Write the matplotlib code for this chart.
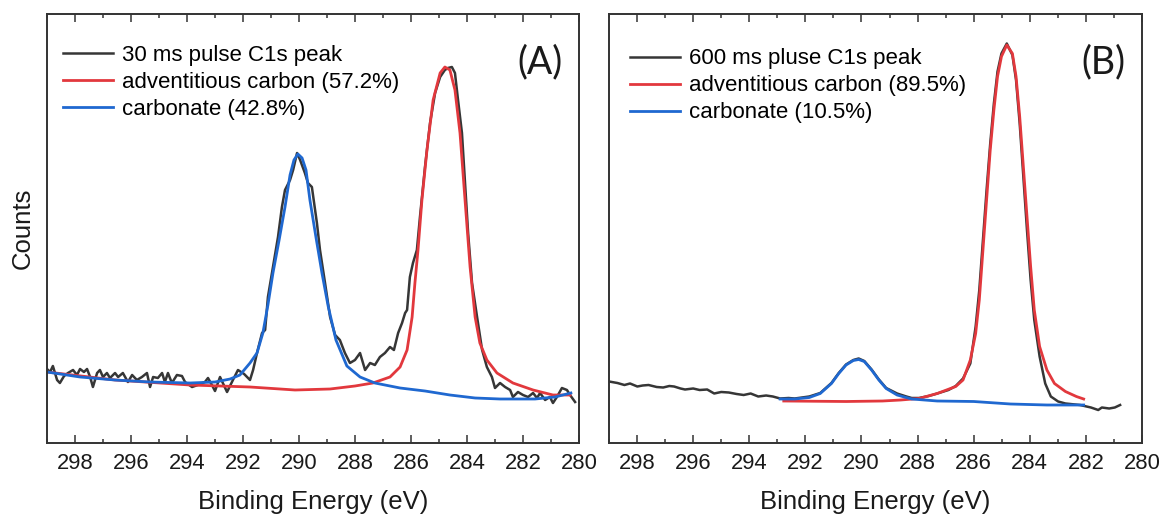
"""Two-panel XPS C1s spectra (30 ms vs 600 ms pulse) with peak fits."""
import matplotlib
matplotlib.use("Agg")
import matplotlib.pyplot as plt
from matplotlib.ticker import MultipleLocator, NullLocator

# ---- panel A: 30 ms pulse ------------------------------------------------
A_RAW_EV = [299.00, 298.89, 298.79, 298.64, 298.54, 298.39, 298.25, 298.07, 297.93, 297.82,
            297.68, 297.57, 297.46, 297.36, 297.21, 297.11, 297.00, 296.86, 296.75, 296.57,
            296.46, 296.29, 296.11, 295.96, 295.79, 295.61, 295.43, 295.32, 295.21, 295.04,
            294.89, 294.79, 294.68, 294.54, 294.36, 294.18, 294.07, 293.82, 293.61, 293.36,
            293.25, 293.11, 293.00, 292.82, 292.57, 292.36, 292.18, 291.96, 291.75, 291.64,
            291.50, 291.32, 291.21, 291.11, 290.93, 290.75, 290.61, 290.50, 290.32, 290.21,
            290.07, 289.96, 289.79, 289.68, 289.54, 289.36, 289.25, 289.07, 288.89, 288.71,
            288.54, 288.36, 288.18, 288.00, 287.82, 287.64, 287.46, 287.29, 287.11, 286.93,
            286.75, 286.61, 286.46, 286.32, 286.21, 286.14, 286.04, 285.93, 285.79, 285.68,
            285.50, 285.32, 285.14, 284.96, 284.79, 284.68, 284.54, 284.43, 284.32, 284.18,
            284.07, 283.96, 283.82, 283.64, 283.46, 283.29, 283.11, 283.00, 282.82, 282.64,
            282.46, 282.36, 282.18, 282.00, 281.82, 281.64, 281.50, 281.39, 281.21, 281.04,
            280.93, 280.79, 280.61, 280.43, 280.32, 280.14]
A_RAW_CTS = [1480, 1420, 1540, 1260, 1200, 1340, 1400, 1460, 1360, 1480,
             1420, 1480, 1320, 1120, 1400, 1460, 1320, 1400, 1300, 1400,
             1320, 1400, 1220, 1360, 1260, 1320, 1400, 1120, 1320, 1300,
             1400, 1220, 1400, 1200, 1360, 1340, 1220, 1120, 1160, 1220,
             1300, 1160, 1040, 1320, 1020, 1260, 1460, 1380, 1260, 1460,
             1800, 2200, 2260, 2920, 3520, 4120, 4720, 5060, 5260, 5460,
             5800, 5660, 5400, 5200, 5120, 4400, 3860, 3200, 2520, 2160,
             2060, 1800, 1600, 1660, 1800, 1460, 1600, 1560, 1720, 1800,
             1920, 1860, 2200, 2400, 2600, 2660, 3320, 3600, 3860, 4520,
             5520, 6400, 7000, 7320, 7460, 7500, 7520, 7400, 6860, 6200,
             5200, 4200, 3200, 2520, 1860, 1520, 1320, 1100, 1200, 1120,
             1060, 920, 1020, 960, 920, 1000, 900, 1000, 860, 920,
             800, 920, 1100, 1060, 960, 820]

A_ADV_EV = [299.00, 296.57, 293.89, 291.75, 290.14, 288.89, 288.00, 287.36, 286.75, 286.39,
            286.14, 285.96, 285.86, 285.75, 285.61, 285.43, 285.21, 284.96, 284.79, 284.61,
            284.43, 284.25, 284.07, 283.89, 283.71, 283.54, 283.29, 282.93, 282.36, 281.64,
            280.93, 280.32]
A_ADV_CTS = [1420, 1260, 1160, 1120, 1060, 1080, 1140, 1200, 1320, 1520,
             1860, 2520, 3200, 3860, 4860, 5860, 6860, 7400, 7520, 7460,
             7060, 6200, 4860, 3520, 2520, 2000, 1660, 1400, 1200, 1060,
             960, 960]

A_CARB_EV = [299.00, 297.82, 296.57, 295.32, 293.89, 293.00, 292.46, 292.11, 291.75, 291.50,
             291.29, 291.11, 290.93, 290.71, 290.50, 290.32, 290.18, 290.04, 289.89, 289.75,
             289.61, 289.39, 289.18, 288.96, 288.68, 288.29, 287.82, 287.29, 286.39, 285.50,
             284.61, 283.71, 282.82, 281.57, 280.86, 280.29]
A_CARB_CTS = [1420, 1320, 1260, 1220, 1200, 1220, 1280, 1360, 1600, 1800,
              2200, 2760, 3400, 4060, 4720, 5360, 5660, 5780, 5700, 5460,
              4860, 4100, 3400, 2740, 2060, 1540, 1320, 1200, 1100, 1040,
              960, 900, 880, 880, 920, 1000]

# ---- panel B: 600 ms pulse -----------------------------------------------
B_RAW_EV = [299.00, 298.70, 298.45, 298.25, 297.99, 297.80, 297.59, 297.30, 297.07, 296.85,
            296.68, 296.45, 296.29, 296.00, 295.77, 295.50, 295.25, 295.00, 294.73, 294.45,
            294.20, 293.95, 293.68, 293.40, 293.16, 292.90, 292.60, 292.38, 291.86, 291.47,
            291.07, 290.81, 290.55, 290.29, 290.10, 289.90, 289.64, 289.38, 289.12, 288.73,
            288.40, 288.21, 287.95, 287.60, 287.30, 286.90, 286.64, 286.38, 286.12, 285.93,
            285.80, 285.67, 285.54, 285.41, 285.28, 285.15, 285.01, 284.82, 284.62, 284.49,
            284.36, 284.23, 284.10, 283.97, 283.84, 283.65, 283.45, 283.25, 282.99, 282.73,
            282.21, 281.82, 281.56, 281.43, 281.17, 280.97, 280.78]
B_RAW_CTS = [1230, 1200, 1160, 1190, 1130, 1150, 1160, 1120, 1110, 1140,
             1130, 1090, 1070, 1090, 1060, 1070, 990, 1020, 1010, 980,
             960, 990, 930, 950, 930, 890, 900, 890, 930, 1000,
             1200, 1400, 1570, 1660, 1690, 1640, 1470, 1270, 1100, 990,
             930, 900, 900, 940, 990, 1060, 1140, 1290, 1590, 2330,
             3060, 4060, 5060, 5990, 6790, 7430, 7790, 7990, 7760, 7260,
             6390, 5330, 4260, 3260, 2460, 1730, 1190, 930, 830, 790,
             760, 710, 660, 710, 690, 710, 760]

B_ADV_EV = [292.77, 290.55, 289.25, 288.60, 287.95, 287.30, 286.64, 286.38, 286.12, 285.93,
            285.80, 285.67, 285.54, 285.41, 285.28, 285.15, 285.01, 284.82, 284.62, 284.49,
            284.36, 284.23, 284.10, 283.97, 283.84, 283.65, 283.39, 283.12, 282.73, 282.34,
            282.08]
B_ADV_CTS = [840, 830, 840, 860, 890, 990, 1130, 1260, 1660, 2190,
             2860, 3860, 4860, 5860, 6660, 7330, 7730, 7960, 7790, 7330,
             6530, 5530, 4530, 3530, 2660, 1930, 1460, 1190, 1030, 930,
             880]

B_CARB_EV = [292.90, 292.38, 291.86, 291.47, 291.07, 290.81, 290.55, 290.29, 290.10, 289.90,
             289.64, 289.38, 289.12, 288.73, 288.21, 287.30, 286.00, 284.69, 283.39, 282.08]
B_CARB_CTS = [880, 880, 910, 990, 1190, 1390, 1560, 1650, 1670, 1630,
              1460, 1260, 1090, 960, 880, 840, 830, 780, 760, 760]

LABELS_A = ["30 ms pulse C1s peak", "adventitious carbon (57.2%)", "carbonate (42.8%)"]
LABELS_B = ["600 ms pluse C1s peak", "adventitious carbon (89.5%)", "carbonate (10.5%)"]

C_RAW, C_ADV, C_CARB = "#363636", "#e2383d", "#1f68d0"
SPINE = "#333333"
FONT = "Liberation Sans"


def style_axes(ax):
    ax.set_xlim(299, 280)
    ax.set_ylim(0, 8580)
    ax.xaxis.set_major_locator(MultipleLocator(2))
    ax.xaxis.set_minor_locator(MultipleLocator(1))
    ax.yaxis.set_major_locator(NullLocator())
    ax.yaxis.set_minor_locator(NullLocator())
    ax.tick_params(axis="x", which="both", direction="in", top=True, bottom=True,
                   color=SPINE, width=1.1)
    ax.tick_params(axis="x", which="major", length=5.8, pad=7, labelsize=15.8,
                   labelcolor="#1a1a1a")
    ax.tick_params(axis="x", which="minor", length=2.9)
    for lab in ax.get_xticklabels():
        lab.set_fontfamily(FONT)
    for sp in ax.spines.values():
        sp.set_color(SPINE)
        sp.set_linewidth(1.4)
    ax.set_xlabel("Binding Energy (eV)", fontsize=18.5, family=FONT, color="#1a1a1a",
                  labelpad=12)


def draw_panel(ax, raw, adv, carb, labels, tag, anchor):
    h1, = ax.plot(*raw, color=C_RAW, lw=1.8, label=labels[0])
    h2, = ax.plot(*adv, color=C_ADV, lw=2.0, label=labels[1])
    h3, = ax.plot(*carb, color=C_CARB, lw=2.0, label=labels[2])
    style_axes(ax)
    ax.legend(handles=[h1, h2, h3], loc="upper left", bbox_to_anchor=anchor,
              frameon=False, borderaxespad=0, borderpad=0,
              prop={"family": FONT, "size": 16}, handlelength=2.25,
              handletextpad=0.4, labelspacing=0.27)
    ax.text(0.927, 0.888, tag, transform=ax.transAxes, ha="center", va="center",
            fontsize=27, family="Lato", color="#1a1a1a")


fig = plt.figure(figsize=(11.62, 5.14), dpi=100)
ax_a = fig.add_axes([47 / 1162, 71 / 514, 532 / 1162, 429 / 514])
ax_b = fig.add_axes([609 / 1162, 71 / 514, 533 / 1162, 429 / 514])

draw_panel(ax_a, (A_RAW_EV, A_RAW_CTS), (A_ADV_EV, A_ADV_CTS), (A_CARB_EV, A_CARB_CTS),
           LABELS_A, "(A)", (0.030, 0.928))
draw_panel(ax_b, (B_RAW_EV, B_RAW_CTS), (B_ADV_EV, B_ADV_CTS), (B_CARB_EV, B_CARB_CTS),
           LABELS_B, "(B)", (0.039, 0.920))

ax_a.set_ylabel("Counts", fontsize=18.5, family=FONT, color="#1a1a1a", labelpad=9)

fig.savefig("out.png", dpi=100)
